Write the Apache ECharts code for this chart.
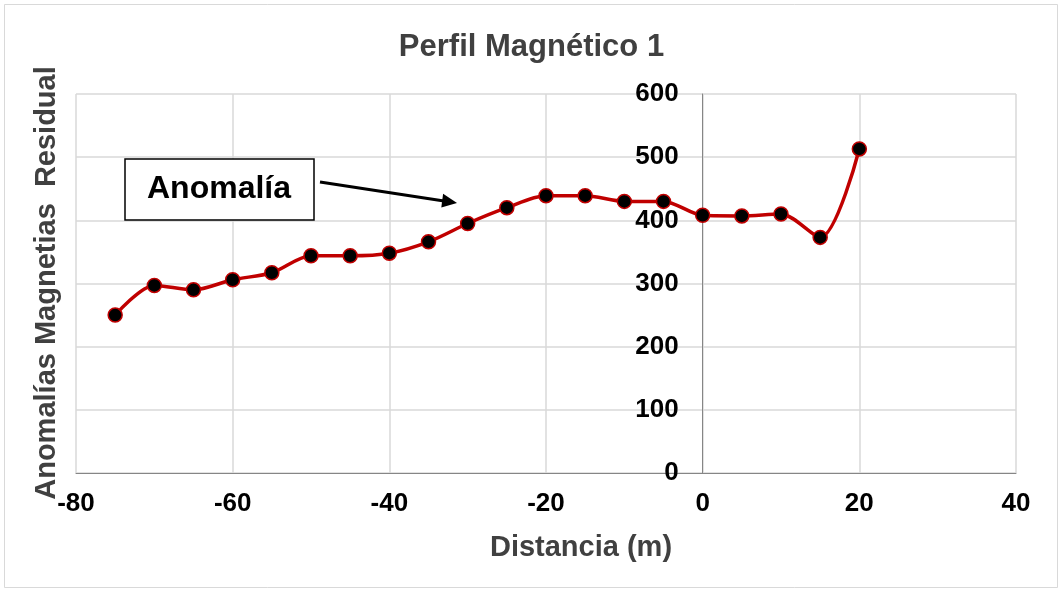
<!DOCTYPE html>
<html>
<head>
<meta charset="utf-8">
<script src="https://cdn.jsdelivr.net/npm/echarts@6/dist/echarts.min.js"></script>
<style>
  html, body { margin: 0; padding: 0; background: #fff; }
  #chart { width: 1063px; height: 592px; }
</style>
</head>
<body>
<div id="chart"></div>
<script>
const distances = [-75, -70, -65, -60, -55, -50, -45, -40, -35, -30, -25, -20, -15, -10, -5, 0, 5, 10, 15, 20];
const anomalies = [250, 297, 290, 306, 317, 344, 344, 348, 366, 395, 420, 439, 439, 430, 430, 408, 407, 410, 373, 513];
const xTicks = [-80, -60, -40, -20, 0, 20, 40];
const yTicks = [0, 100, 200, 300, 400, 500, 600];

const chart = echarts.init(document.getElementById("chart"));
const font = "'Liberation Sans', Arial, sans-serif";

// plot area, and where the y axis crosses x = 0
const gridLeft = 76, gridRight = 47;
const plotWidth = 1063 - gridLeft - gridRight;
const xMin = xTicks[0], xMax = xTicks[xTicks.length - 1];
const yAxisShift = plotWidth * (0 - xMin) / (xMax - xMin);

const option = {
  backgroundColor: "#ffffff",
  animation: false,
  title: {
    text: "Perfil Magnético 1",
    left: "center",
    top: 27,
    textStyle: { fontFamily: font, fontSize: 31, fontWeight: "bold", color: "#404040" },
  },
  grid: { left: gridLeft, right: gridRight, top: 94, bottom: 119, containLabel: false },
  xAxis: {
    type: "value",
    min: xMin,
    max: xMax,
    interval: 20,
    axisLine: { show: true, lineStyle: { color: "#868686", width: 1 } },
    axisTick: { show: false },
    axisLabel: { margin: 18, fontFamily: font, fontSize: 26, fontWeight: "bold", color: "#000" },
    splitLine: { show: true, lineStyle: { color: "#d9d9d9", width: 1.5 } },
  },
  yAxis: {
    type: "value",
    min: yTicks[0],
    max: yTicks[yTicks.length - 1],
    interval: 100,
    offset: -yAxisShift,
    axisLine: { show: true, onZero: false, lineStyle: { color: "#868686", width: 1 } },
    axisTick: { show: false },
    axisLabel: { margin: 24, fontFamily: font, fontSize: 26, fontWeight: "bold", color: "#000" },
    splitLine: { show: true, lineStyle: { color: "#d9d9d9", width: 1.5 } },
  },
  series: [
    {
      type: "line",
      data: distances.map((d, i) => [d, anomalies[i]]),
      smooth: 0.3,
      symbol: "circle",
      symbolSize: 14,
      lineStyle: { color: "#c00000", width: 3.5 },
      itemStyle: { color: "#000000", borderColor: "#c00000", borderWidth: 1.5 },
      z: 5,
    },
  ],
  graphic: [
    {
      type: "rect",
      shape: { x: 4.5, y: 4.5, width: 1053, height: 583 },
      style: { fill: "none", stroke: "#d9d9d9", lineWidth: 1 },
      silent: true,
    },
    {
      type: "text",
      x: 581,
      y: 548,
      style: {
        text: "Distancia (m)",
        fontFamily: font, fontSize: 29, fontWeight: "bold", fill: "#404040",
        align: "center", verticalAlign: "middle",
      },
    },
    {
      type: "text",
      x: 47,
      y: 283,
      rotation: Math.PI / 2,
      style: {
        text: "Anomalías Magnetias  Residual",
        fontFamily: font, fontSize: 29, fontWeight: "bold", fill: "#404040",
        align: "center", verticalAlign: "middle",
      },
    },
    {
      type: "rect",
      shape: { x: 125, y: 159, width: 189, height: 61 },
      style: { fill: "#ffffff", stroke: "#000000", lineWidth: 1.5 },
      z: 10,
    },
    {
      type: "text",
      x: 219,
      y: 189,
      z: 11,
      style: {
        text: "Anomalía",
        fontFamily: font, fontSize: 32, fontWeight: "bold", fill: "#000",
        align: "center", verticalAlign: "middle",
      },
    },
    {
      type: "line",
      shape: { x1: 320, y1: 182, x2: 444, y2: 201 },
      style: { stroke: "#000", lineWidth: 3 },
      z: 10,
    },
    {
      type: "polygon",
      shape: { points: [[457, 203], [441.3, 207.6], [443.1, 193.8]] },
      style: { fill: "#000" },
      z: 10,
    },
  ],
};

chart.setOption(option);
window.addEventListener("resize", () => chart.resize());
</script>
</body>
</html>
